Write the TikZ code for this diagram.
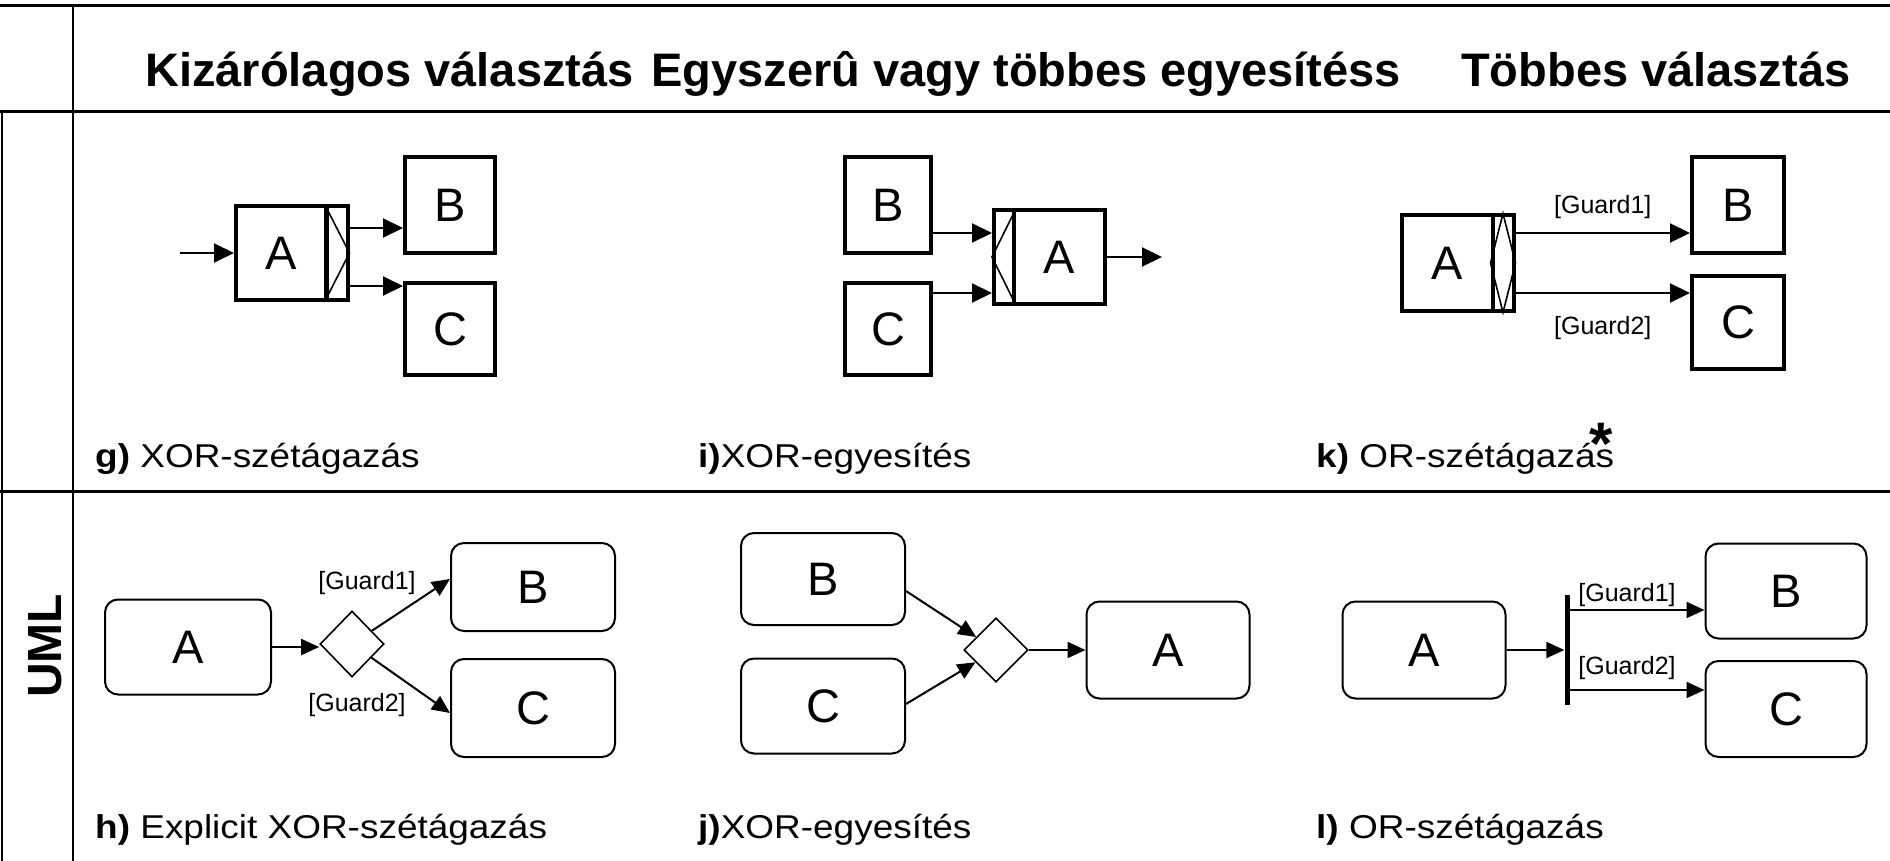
\documentclass[tikz,border=0pt]{standalone}
\usepackage{fontspec}
\usepackage{graphicx}
\setmainfont{Liberation Sans}
\usetikzlibrary{arrows.meta,shapes.geometric,calc}
% captions are set slightly widened
\newcommand{\widetext}[1]{\scalebox{1.12}[1]{#1}}

\begin{document}
\begin{tikzpicture}[x=1pt,y=-1pt,
  hdr/.style={font=\fontsize{47}{56}\selectfont\bfseries, anchor=base west, inner sep=0},
  lbl/.style={font=\fontsize{33}{40}\selectfont, anchor=base west, inner sep=0},
  guard/.style={font=\fontsize{25}{30}\selectfont, inner sep=0},
  sq/.style={draw, line width=4pt, rectangle, inner sep=0, font=\fontsize{47}{50}\selectfont},
  strip/.style={draw, line width=4pt, rectangle, inner sep=0, minimum width=21pt},
  rbox/.style={draw, line width=2pt, rectangle, rounded corners=13pt, inner sep=0, font=\fontsize{47}{50}\selectfont},
  dec/.style={diamond, draw, line width=1.6pt, inner sep=0},
  bar/.style={rectangle, fill=black, inner sep=0, minimum width=5pt},
  arr/.style={line width=2pt, -{Triangle[length=20pt,width=19pt]}},
  uarr/.style={line width=2pt, -{Triangle[length=18pt,width=16pt]}},
  hline/.style={line width=3pt},
  vline/.style={line width=2pt},
  glyphline/.style={line width=1.6pt}]

\useasboundingbox (0,0) rectangle (1890,861);

% table rules
\draw[hline] (0,6) -- (1890,6);
\draw[hline] (0,112) -- (1890,112);
\draw[hline] (0,491) -- (1890,491);
\draw[vline] (73,6) -- (73,861);
\draw[vline] (2,112) -- (2,861);

% column headings
\node[hdr] (h1) at (145,87) {Kizárólagos választás};
\node[hdr] (h2) at (651,87) {Egyszerû vagy többes egyesítéss};
\node[hdr] (h3) at (1461,87) {Többes választás};
\node[font=\fontsize{48}{48}\selectfont\bfseries, rotate=90, anchor=base, inner sep=0] (uml) at (61,646) {UML};

% ---------- g) XOR split ----------
\node[sq, minimum width=90pt, minimum height=94pt] (gA) at (281,253) {A};
\node[strip, minimum height=94pt] (gS) at (337,253) {};
\draw[glyphline] (gS.north west) -- (gS.east) -- (gS.south west);
\node[sq, minimum width=90pt, minimum height=96pt] (gB) at (450,205) {B};
\node[sq, minimum width=90pt, minimum height=92pt] (gC) at (450,329) {C};
\coordinate (gIn) at (180,253);
\coordinate (gB-in) at ([yshift=-23pt]gB.west);
\coordinate (gC-in) at ([yshift=43pt]gC.west);
\draw[arr] (gIn) -- (gA.west);
\draw[arr] (gS.east |- gB-in) -- (gB-in);
\draw[arr] (gS.east |- gC-in) -- (gC-in);
\node[lbl] (gl) at (95,467) {\widetext{\textbf{g)} XOR-szétágazás}};

% ---------- i) XOR join ----------
\node[sq, minimum width=86pt, minimum height=96pt] (iB) at (888,205) {B};
\node[sq, minimum width=86pt, minimum height=92pt] (iC) at (888,329) {C};
\node[strip, minimum width=20pt, minimum height=93pt] (iS) at (1004,257) {};
\node[sq, minimum width=91pt, minimum height=93pt] (iA) at (1059,257) {A};
\draw[glyphline] (iS.north east) -- (iS.west) -- (iS.south east);
\coordinate (iB-out) at ([yshift=-28pt]iB.east);
\coordinate (iC-out) at ([yshift=36pt]iC.east);
\coordinate (iOut) at (1162,257);
\draw[arr] (iB-out) -- (iS.west |- iB-out);
\draw[arr] (iC-out) -- (iS.west |- iC-out);
\draw[arr] (iA.east) -- (iOut);
\node[lbl] (il) at (698,467) {\widetext{\textbf{i)}XOR-egyesítés}};

% ---------- k) OR split ----------
\node[sq, minimum width=91pt, minimum height=95pt] (kA) at (1447,263) {A};
\node[strip, minimum height=95pt] (kS) at (1503,263) {};
\draw[glyphline] (kS.north) -- (kS.west) -- (kS.south) -- (kS.east) -- cycle;
\node[sq, minimum width=92pt, minimum height=96pt] (kB) at (1738,205) {B};
\node[sq, minimum width=92pt, minimum height=93pt] (kC) at (1738,322) {C};
\coordinate (kB-in) at ([yshift=-28pt]kB.west);
\coordinate (kC-in) at ([yshift=29pt]kC.west);
\draw[arr] (kS.east |- kB-in) -- node[guard, midway, yshift=26pt] (kg1) {[Guard1]} (kB-in);
\draw[arr] (kS.east |- kC-in) -- node[guard, midway, yshift=-35pt] (kg2) {[Guard2]} (kC-in);
\node[lbl] (kl) at (1316,467) {\widetext{\textbf{k)} OR-szétágazás}};
\node[font=\fontsize{60}{60}\selectfont\bfseries, anchor=base, inner sep=0] (star) at (1601,464) {*};

% ---------- h) explicit XOR split ----------
\node[rbox, minimum width=166pt, minimum height=95pt] (hA) at (188,647) {A};
\node[dec, minimum width=64pt, minimum height=66pt] (hD) at (352,644) {};
\node[rbox, minimum width=164pt, minimum height=88pt] (hB) at (533,587) {B};
\node[rbox, minimum width=164pt, minimum height=98pt] (hC) at (533,708) {C};
\coordinate (hB-in) at ([yshift=8pt]hB.west);
\coordinate (hC-in) at ([yshift=-5pt]hC.west);
\draw[uarr] (hA.east) -- (hD.west |- hA.east);
\draw[uarr] (hD) -- (hB-in);
\draw[uarr] (hD) -- (hC-in);
\node[guard] (hg1) at (367,583) {[Guard1]};
\node[guard] (hg2) at (357,705) {[Guard2]};
\node[lbl] (hl) at (95,838) {\widetext{\textbf{h)} Explicit XOR-szétágazás}};

% ---------- j) XOR join ----------
\node[rbox, minimum width=164pt, minimum height=92pt] (jB) at (823,579) {B};
\node[rbox, minimum width=164pt, minimum height=95pt] (jC) at (823,706) {C};
\node[dec, minimum width=64pt, minimum height=64pt] (jD) at (996,650) {};
\node[rbox, minimum width=163pt, minimum height=97pt] (jA) at (1168,650) {A};
\coordinate (jB-out) at ([yshift=-12pt]jB.east);
\coordinate (jC-out) at ([yshift=2pt]jC.east);
\draw[uarr] (jB-out) -- (jD);
\draw[uarr] (jC-out) -- (jD);
\draw[uarr] (jD.east) -- (jA.west);
\node[lbl] (jl) at (698,838) {\widetext{\textbf{j)}XOR-egyesítés}};

% ---------- l) OR split ----------
\node[rbox, minimum width=163pt, minimum height=97pt] (lA) at (1424,650) {A};
\node[bar, minimum height=110pt] (lBar) at (1567,650) {};
\node[rbox, minimum width=161pt, minimum height=95pt] (lB) at (1786,591) {B};
\node[rbox, minimum width=161pt, minimum height=96pt] (lC) at (1786,709) {C};
\coordinate (lB-in) at ([yshift=-19pt]lB.west);
\coordinate (lC-in) at ([yshift=19pt]lC.west);
\draw[uarr] (lA.east) -- (lBar.west |- lA.east);
\draw[uarr] (lBar.east |- lB-in) -- (lB-in);
\draw[uarr] (lBar.east |- lC-in) -- (lC-in);
\node[guard] (lg1) at (1627,595) {[Guard1]};
\node[guard] (lg2) at (1627,668) {[Guard2]};
\node[lbl] (ll) at (1316,838) {\widetext{\textbf{l)} OR-szétágazás}};
\end{tikzpicture}
\end{document}
